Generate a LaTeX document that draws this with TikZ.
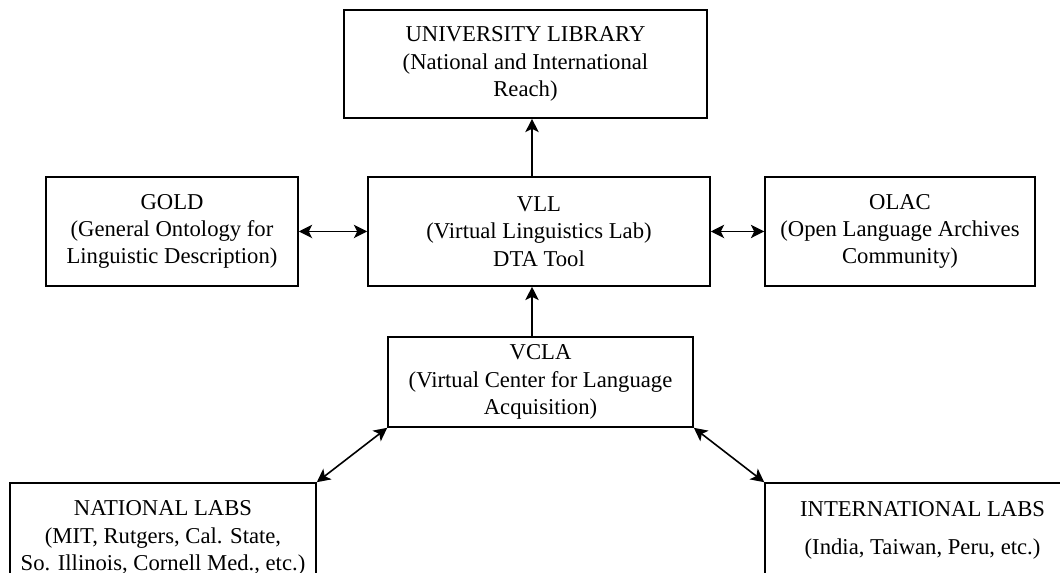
\documentclass[tikz,border=0pt]{standalone}
\usepackage{fontspec}
\setmainfont{Liberation Serif}
\usetikzlibrary{positioning,arrows.meta,shapes}

\begin{document}
\begin{tikzpicture}[>={Stealth[width=10pt,length=10pt,inset=2.5pt]}, line width=1.2pt, box/.style={draw, rectangle, align=center, inner sep=0pt, font=\fontsize{17}{20.5}\selectfont}]
	\clip (0pt, 0pt) rectangle (795pt, -429pt);
	\draw (394.1pt, -48.0pt)node[box, minimum width=272.25pt, minimum height=81pt](lib){UNIVERSITY LIBRARY\\(National and International\\Reach)};
	\draw (129.0pt, -173.6pt)node[box, minimum width=189pt, minimum height=81.75pt](gold){GOLD\\(General Ontology for\\Linguistic Description)};
	\draw (404.25pt, -173.6pt)node[box, minimum width=256.5pt, minimum height=81.75pt](vll){VLL\\(Virtual Linguistics Lab)\\DTA Tool};
	\draw (675.0pt, -173.6pt)node[box, minimum width=202.5pt, minimum height=81.75pt](olac){OLAC\\(Open Language Archives\\Community)};
	\draw (405.4pt, -286.5pt)node[box, minimum width=228.75pt, minimum height=67.5pt](vcla){VCLA\\(Virtual Center for Language\\Acquisition)};
	\draw (122.25pt, -403.5pt)node[box, minimum width=229.5pt, minimum height=82.5pt](nat){NATIONAL LABS\\(MIT, Rutgers, Cal. State,\\So. Illinois, Cornell Med., etc.)};
	\draw (691.9pt, -397.5pt)node[box, minimum width=236.25pt, minimum height=70.5pt](intl){INTERNATIONAL LABS\\[8pt](India, Taiwan, Peru, etc.)};
	\draw[->] ([xshift=-5.25pt]vll.north) -- ([xshift=-5.25pt]vll.north |- lib.south);
	\draw[->] ([xshift=-6.4pt]vcla.north) -- ([xshift=-6.4pt]vcla.north |- vll.south);
	\path[<->] (gold) edge (vll);
	\path[<->] (vll) edge (olac);
	\path[<->] (vcla.south west) edge (nat.north east);
	\path[<->] (vcla.south east) edge (intl.north west);
	\end{tikzpicture}
\end{document}
